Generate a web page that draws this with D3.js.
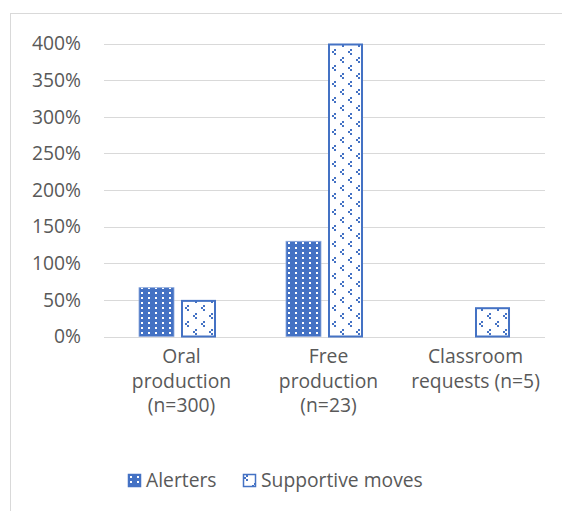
<!DOCTYPE html>
<html>
<head>
<meta charset="utf-8">
<script src="https://cdn.jsdelivr.net/npm/d3@7"></script>
<style>
  body { margin: 0; background: #fff; }
  svg { display: block; font-family: "Open Sans", sans-serif; }
</style>
</head>
<body>
<svg id="chart" width="562" height="511"></svg>
<script>
const categories = [
    ["Oral", "production", "(n=300)"],
    ["Free", "production", "(n=23)"],
    ["Classroom", "requests (n=5)"]
];
const seriesNames = ["Alerters", "Supportive moves"];
const alerters = [0.667, 1.30, 0];
const supportive = [0.50, 4.00, 0.40];
const yTicks = [0, 0.5, 1, 1.5, 2, 2.5, 3, 3.5, 4];

const blue = "#4472C4";
const textColor = "#595959";
const fontSize = 19.3;

const svg = d3.select("#chart");

// chart border
svg.append("rect")
    .attr("x", 10.5).attr("y", 13.5)
    .attr("width", 700).attr("height", 700)
    .attr("fill", "none")
    .attr("stroke", "#d9d9d9");

// patterns
const defs = svg.append("defs");
const pA = defs.append("pattern")
    .attr("id", "patA")
    .attr("patternUnits", "userSpaceOnUse")
    .attr("width", 7).attr("height", 10);
pA.append("rect").attr("width", 7).attr("height", 10).attr("fill", blue);
pA.append("rect").attr("x", 2).attr("y", 2).attr("width", 2).attr("height", 2).attr("fill", "#fff");
pA.append("rect").attr("x", 2).attr("y", 7).attr("width", 2).attr("height", 2).attr("fill", "#fff");

const pS = defs.append("pattern")
    .attr("id", "patS")
    .attr("patternUnits", "userSpaceOnUse")
    .attr("width", 16).attr("height", 16);
pS.append("rect").attr("width", 16).attr("height", 16).attr("fill", "#fff");
[[3, 1], [1, 3], [3, 5], [11, 9], [9, 11], [11, 13]].forEach(([x, y]) => {
    pS.append("rect").attr("x", x).attr("y", y).attr("width", 2).attr("height", 2).attr("fill", blue);
});

const x0 = d3.scaleBand()
    .domain(d3.range(categories.length))
    .range([104, 545]);

const x1 = d3.scaleBand()
    .domain(seriesNames)
    .range([0, x0.bandwidth()])
    .paddingInner(0.1667)
    .paddingOuter(0.833);

const y = d3.scaleLinear()
    .domain([0, 4])
    .range([336.5, 43.5]);

// gridlines
svg.append("g")
    .selectAll("line")
    .data(yTicks)
    .enter()
    .append("line")
    .attr("x1", 104).attr("x2", 545)
    .attr("y1", d => Math.round(y(d)) + 0.5)
    .attr("y2", d => Math.round(y(d)) + 0.5)
    .attr("stroke", "#d9d9d9")
    .attr("stroke-width", 1);

// y labels
svg.append("g")
    .selectAll("text")
    .data(yTicks)
    .enter()
    .append("text")
    .attr("x", 81)
    .attr("y", d => y(d))
    .attr("dy", "0.35em")
    .attr("text-anchor", "end")
    .attr("font-size", fontSize)
    .attr("fill", textColor)
    .text(d => d3.format(".0%")(d));

// bars
const groups = svg.append("g")
    .selectAll("g")
    .data(categories.map((c, i) => i))
    .enter()
    .append("g")
    .attr("transform", i => `translate(${x0(i)},0)`);

groups.append("rect")
    .attr("x", x1("Alerters"))
    .attr("y", i => y(alerters[i]))
    .attr("width", x1.bandwidth())
    .attr("height", i => y(0) - y(alerters[i]))
    .attr("fill", "url(#patA)")
    .attr("stroke", "#8faadc")
    .attr("stroke-width", i => alerters[i] > 0 ? 0.8 : 0);

groups.append("rect")
    .attr("x", x1("Supportive moves") + 1)
    .attr("y", i => y(supportive[i]) + 1)
    .attr("width", x1.bandwidth() - 2)
    .attr("height", i => y(0) - y(supportive[i]) - 1)
    .attr("fill", "url(#patS)")
    .attr("stroke", blue)
    .attr("stroke-width", 2);

// category labels
const labels = svg.append("g")
    .selectAll("text")
    .data(categories)
    .enter()
    .append("text")
    .attr("x", (d, i) => x0(i) + x0.bandwidth() / 2 + 4)
    .attr("y", 363)
    .attr("text-anchor", "middle")
    .attr("font-size", fontSize)
    .attr("fill", textColor);

labels.selectAll("tspan")
    .data(d => d)
    .enter()
    .append("tspan")
    .attr("x", function () { return d3.select(this.parentNode).attr("x"); })
    .attr("dy", (d, j) => j === 0 ? 0 : 24.5)
    .text(d => d);

// legend
const legendItems = [
    {name: "Alerters", fill: "url(#patA)", x: 128},
    {name: "Supportive moves", fill: "url(#patS)", x: 243}
];
const legend = svg.append("g")
    .selectAll("g")
    .data(legendItems)
    .enter()
    .append("g")
    .attr("transform", d => `translate(${d.x},474)`);

legend.append("rect")
    .attr("x", 0.5).attr("y", 0.5)
    .attr("width", 12).attr("height", 12)
    .attr("fill", d => d.fill)
    .attr("stroke", blue)
    .attr("stroke-width", 1.5);

legend.append("text")
    .attr("x", 18)
    .attr("y", 6.5)
    .attr("dy", "0.35em")
    .attr("font-size", fontSize)
    .attr("fill", textColor)
    .text(d => d.name);
</script>
</body>
</html>
